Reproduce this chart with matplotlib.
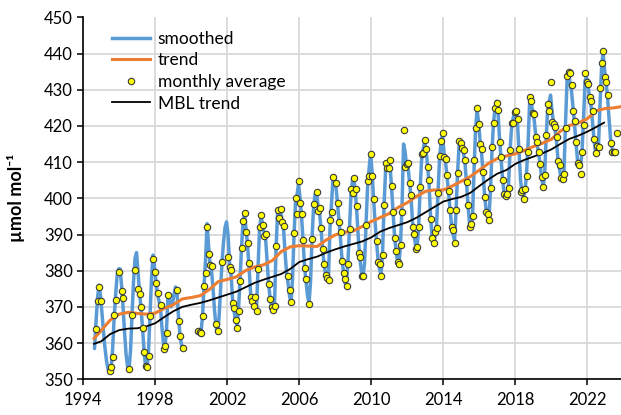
import numpy as np
import matplotlib
matplotlib.use("Agg")
import matplotlib.pyplot as plt
from matplotlib.lines import Line2D

nan = float("nan")

# ---------------- monthly averages (Jan..Dec) ----------------
avg_1994 = [nan, nan, nan, nan, nan, nan, nan, nan, 364.0, 371.7, 375.6, 371.7]
avg_1995 = [nan, nan, nan, nan, nan, 352.4, 353.5, 356.2, 367.8, 372.0, nan, 379.7]
avg_1996 = [nan, 374.4, 372.5, nan, nan, nan, 352.9, nan, 367.8, nan, 380.3, nan]
avg_1997 = [374.9, 373.6, 370.1, 364.3, 357.5, 353.8, 353.5, 356.4, 367.6, nan, 383.1, 379.7]
avg_1998 = [376.5, 373.8, nan, 370.4, nan, 358.4, 359.2, 362.9, 373.4, nan, nan, nan]
avg_1999 = [nan, nan, 374.7, 366.2, 362.0, nan, 358.7, nan, nan, nan, nan, nan]
avg_2000 = [nan, nan, nan, nan, 363.4, 363.0, 362.9, 367.6, 375.9, 379.4, 392.2, 384.7]
avg_2001 = [381.7, 381.2, nan, nan, 365.3, 363.3, nan, nan, 382.4, nan, nan, nan]
avg_2002 = [383.9, 380.9, 380.2, 371.0, 369.6, 366.4, 364.1, 368.9, 377.2, 386.2, 393.7, 395.9]
avg_2003 = [390.8, 387.7, 382.0, 372.8, 371.7, 370.3, 372.8, 369.0, 380.6, 392.2, 395.4, 392.5]
avg_2004 = [389.6, 390.1, nan, 376.3, 372.3, 369.9, 369.1, 370.3, 386.7, 396.8, 394.5, 397.0]
avg_2005 = [393.5, 392.3, nan, nan, 378.5, 374.7, 371.4, nan, 390.3, 400.0, 395.6, 404.9]
avg_2006 = [398.6, 395.6, 388.5, 380.8, 377.8, nan, 370.7, nan, 388.7, 398.4, nan, 401.7]
avg_2007 = [396.6, 397.3, 391.7, 385.9, 381.8, 378.8, 377.9, 377.4, 394.0, 396.1, 406.0, nan]
avg_2008 = [404.1, 398.6, 393.4, 390.8, 382.8, 379.3, 377.7, 375.9, 381.9, 391.5, 402.7, 401.5]
avg_2009 = [405.7, 402.5, 397.9, 385.0, 383.9, 378.6, 378.6, nan, 392.5, 404.8, 406.2, 412.2]
avg_2010 = [406.2, 399.7, nan, 388.3, 382.5, 381.9, 378.5, 384.3, 398.2, 409.8, 408.3, 408.3]
avg_2011 = [410.6, 403.5, 396.3, 389.1, 385.4, 382.5, 381.9, 387.1, 396.3, 418.9, 408.6, 409.5]
avg_2012 = [409.7, 404.3, 401.0, 392.2, 390.1, 386.1, 386.6, 392.0, 403.0, 412.1, 412.6, 416.1]
avg_2013 = [413.5, 408.6, 405.0, 394.2, 389.1, 387.6, 390.8, 391.7, 401.5, 411.7, 415.8, 418.1]
avg_2014 = [411.5, 410.9, 406.4, 402.1, 396.8, 392.2, 391.2, 387.6, 396.8, 407.1, 415.8, 415.2]
avg_2015 = [414.0, 413.3, 410.6, 404.6, 398.2, 392.0, 392.9, 395.2, 410.6, 419.3, 424.9, 420.5]
avg_2016 = [415.0, 413.6, 407.3, 400.4, 396.3, 395.6, 394.0, 402.8, 414.3, 420.9, 425.0, 426.2]
avg_2017 = [424.4, 415.6, 411.3, 405.0, 401.2, 400.6, 401.1, 402.8, 413.3, 420.7, 420.7, 423.9]
avg_2018 = [424.2, 421.8, 413.6, 401.8, 402.3, 399.7, 402.5, 406.2, 412.9, 428.1, 426.9, 423.5]
avg_2019 = [423.2, 417.0, 415.6, 412.9, 409.5, 406.0, 403.0, 406.4, 417.5, 426.0, 424.2, 432.2]
avg_2020 = [421.2, 420.4, 419.8, 416.9, 410.3, 409.2, 405.7, 405.2, 406.7, 419.3, 433.8, 435.0]
avg_2021 = [434.5, 431.3, 424.2, 421.4, 415.5, 409.7, 409.2, 406.7, 412.9, 420.3, 434.5, 432.0]
avg_2022 = [431.5, 428.1, 427.0, 424.1, 416.4, 412.4, 414.5, 414.1, 430.4, 437.5, 440.7, 433.6]
avg_2023 = [432.0, 428.5, nan, 415.2, 412.9, 412.9, 412.9, 418.1, nan, nan, nan, nan]

# ---------------- smoothed curve (Jan..Dec) ----------------
smo_1994 = [nan, nan, nan, nan, nan, nan, nan, 358.5, 366.0, 372.5, 376.0, 373.0]
smo_1995 = [368.0, 363.0, 358.5, 355.0, 352.8, 352.2, 353.0, 358.0, 366.5, 373.0, 378.5, 380.5]
smo_1996 = [380.5, 376.0, 370.0, 363.0, 357.0, 353.5, 352.8, 358.0, 368.0, 377.0, 383.5, 385.0]
smo_1997 = [379.5, 374.0, 369.5, 364.0, 358.0, 353.5, 353.0, 358.0, 368.0, 378.0, 384.3, 381.0]
smo_1998 = [376.5, 373.5, 371.5, 369.5, 364.0, 359.5, 359.0, 364.0, 373.5, 372.0, 370.0, 371.0]
smo_1999 = [373.5, 375.5, 374.0, 367.0, 362.0, 359.5, 358.5, nan, nan, nan, nan, nan]
smo_2000 = [nan, nan, nan, nan, 363.5, 363.0, 363.0, 367.5, 376.0, 383.0, 393.0, 387.0]
smo_2001 = [381.5, 380.0, 375.0, 369.0, 364.5, 362.8, 367.0, 375.0, 382.5, 388.0, 392.0, 393.5]
smo_2002 = [390.0, 382.0, 379.0, 372.0, 369.0, 366.0, 365.0, 369.5, 377.5, 386.5, 393.5, 395.5]
smo_2003 = [391.5, 387.0, 381.0, 374.0, 371.5, 371.0, 370.5, 369.5, 381.0, 391.5, 395.0, 393.0]
smo_2004 = [390.5, 389.0, 383.0, 376.5, 372.5, 370.0, 369.0, 371.0, 386.0, 396.0, 396.0, 396.5]
smo_2005 = [394.0, 391.5, 385.0, 379.5, 376.5, 373.0, 371.0, 378.0, 390.0, 399.0, 401.0, 404.0]
smo_2006 = [400.0, 395.0, 388.5, 381.0, 377.0, 373.0, 371.0, 377.0, 389.0, 397.5, 401.0, 401.5]
smo_2007 = [398.0, 396.0, 391.5, 386.0, 382.0, 379.0, 377.5, 379.0, 392.0, 399.0, 405.5, 406.0]
smo_2008 = [403.0, 398.5, 393.5, 388.5, 383.0, 379.5, 376.5, 377.0, 383.0, 392.0, 401.5, 405.0]
smo_2009 = [405.0, 401.0, 395.0, 388.0, 383.0, 379.5, 378.5, 382.0, 393.0, 403.0, 408.0, 412.5]
smo_2010 = [407.5, 400.0, 393.5, 388.0, 383.0, 380.5, 379.0, 385.0, 398.0, 407.5, 409.0, 409.5]
smo_2011 = [409.0, 403.0, 396.0, 389.5, 385.5, 382.5, 382.0, 387.5, 398.0, 415.0, 413.0, 409.0]
smo_2012 = [408.5, 404.5, 400.0, 393.5, 390.0, 387.0, 386.5, 391.5, 402.0, 410.5, 413.5, 415.5]
smo_2013 = [413.5, 409.0, 404.0, 395.0, 389.5, 387.5, 389.5, 392.5, 401.5, 411.0, 415.5, 417.5]
smo_2014 = [412.5, 410.0, 406.0, 401.5, 397.0, 392.5, 390.0, 388.5, 396.5, 407.0, 414.5, 415.0]
smo_2015 = [414.0, 412.5, 409.5, 404.0, 398.0, 393.0, 392.0, 395.0, 408.0, 419.0, 424.5, 421.0]
smo_2016 = [416.0, 412.5, 407.0, 401.0, 397.0, 395.0, 395.0, 402.5, 413.5, 421.0, 425.0, 426.8]
smo_2017 = [423.5, 416.5, 411.0, 405.5, 401.5, 400.5, 401.0, 404.0, 413.0, 419.5, 422.0, 424.0]
smo_2018 = [424.5, 420.5, 413.0, 405.0, 401.5, 400.5, 402.0, 407.0, 415.0, 426.0, 427.0, 424.0]
smo_2019 = [422.0, 418.0, 415.0, 412.5, 409.5, 406.0, 403.0, 406.0, 416.0, 424.0, 426.5, 428.5]
smo_2020 = [424.0, 421.0, 419.0, 415.5, 410.5, 408.0, 405.5, 405.0, 408.0, 421.0, 432.5, 434.5]
smo_2021 = [432.0, 429.5, 425.0, 420.5, 415.0, 410.5, 408.5, 408.5, 413.0, 422.0, 432.5, 433.5]
smo_2022 = [431.0, 428.0, 425.5, 421.0, 416.0, 413.0, 413.5, 415.0, 426.0, 436.0, 440.5, 435.5]
smo_2023 = [432.0, 428.0, 422.0, 416.5, 414.0, nan, nan, nan, nan, nan, nan, nan]

# ---------------- trend ----------------
trend_t = [1994.6, 1995.0, 1995.5, 1996.0, 1996.5, 1997.0, 1997.5, 1998.0, 1998.5, 1999.0,
           1999.5, 2000.0, 2000.5, 2001.0, 2001.5, 2002.0, 2002.5, 2003.0, 2003.5, 2004.0,
           2004.5, 2005.0, 2005.5, 2006.0, 2006.5, 2007.0, 2007.5, 2008.0, 2008.5, 2009.0,
           2009.5, 2010.0, 2010.5, 2011.0, 2011.5, 2012.0, 2012.5, 2013.0, 2013.5, 2014.0,
           2014.5, 2015.0, 2015.5, 2016.0, 2016.5, 2017.0, 2017.5, 2018.0, 2018.5, 2019.0,
           2019.5, 2020.0, 2020.5, 2021.0, 2021.5, 2022.0, 2022.5, 2023.0, 2023.5, 2023.85]
trend_v = [361.3, 363.5, 366.4, 368.0, 368.5, 368.2, 368.0, 368.3, 369.6, 370.6,
           372.2, 372.6, 373.1, 374.8, 377.0, 377.6, 378.3, 380.0, 381.0, 381.6,
           382.8, 385.3, 386.6, 386.9, 386.8, 386.7, 388.5, 389.9, 390.6, 391.0,
           392.2, 393.6, 394.7, 395.8, 397.5, 398.8, 400.5, 401.9, 402.3, 402.3,
           403.4, 404.7, 406.0, 407.8, 409.6, 411.0, 411.7, 412.3, 413.2, 414.3,
           415.2, 416.3, 418.5, 420.1, 420.8, 422.0, 424.2, 424.8, 425.0, 425.3]

# ---------------- MBL trend ----------------
mbl_t = [1994.6, 1995.0, 1995.5, 1996.0, 1996.5, 1997.0, 1997.5, 1998.0, 1998.5, 1999.0,
         1999.5, 2000.0, 2000.5, 2001.0, 2001.5, 2002.0, 2002.5, 2003.0, 2003.5, 2004.0,
         2004.5, 2005.0, 2005.5, 2006.0, 2006.5, 2007.0, 2007.5, 2008.0, 2008.5, 2009.0,
         2009.5, 2010.0, 2010.5, 2011.0, 2011.5, 2012.0, 2012.5, 2013.0, 2013.5, 2014.0,
         2014.5, 2015.0, 2015.5, 2016.0, 2016.5, 2017.0, 2017.5, 2018.0, 2018.5, 2019.0,
         2019.5, 2020.0, 2020.5, 2021.0, 2021.5, 2022.0, 2022.5, 2022.93]
mbl_v = [359.8, 360.5, 362.5, 363.6, 364.0, 364.1, 364.6, 365.5, 367.2, 368.8,
         370.0, 370.6, 371.1, 371.8, 372.6, 373.4, 374.2, 375.4, 376.6, 377.5,
         378.3, 379.1, 380.5, 382.4, 383.2, 383.9, 385.0, 385.9, 386.7, 387.4,
         388.1, 389.2, 390.8, 391.8, 392.6, 393.4, 394.6, 396.1, 397.6, 399.1,
         399.8, 400.4, 401.5, 403.4, 405.2, 406.8, 407.8, 409.5, 410.6, 411.5,
         412.4, 413.5, 415.0, 416.4, 417.3, 418.4, 419.7, 420.9]

x_ticks = [1994, 1998, 2002, 2006, 2010, 2014, 2018, 2022]
y_ticks = [350, 360, 370, 380, 390, 400, 410, 420, 430, 440, 450]

years = list(range(1994, 2024))
avg_rows = [avg_1994, avg_1995, avg_1996, avg_1997, avg_1998, avg_1999, avg_2000, avg_2001,
            avg_2002, avg_2003, avg_2004, avg_2005, avg_2006, avg_2007, avg_2008, avg_2009,
            avg_2010, avg_2011, avg_2012, avg_2013, avg_2014, avg_2015, avg_2016, avg_2017,
            avg_2018, avg_2019, avg_2020, avg_2021, avg_2022, avg_2023]
smo_rows = [smo_1994, smo_1995, smo_1996, smo_1997, smo_1998, smo_1999, smo_2000, smo_2001,
            smo_2002, smo_2003, smo_2004, smo_2005, smo_2006, smo_2007, smo_2008, smo_2009,
            smo_2010, smo_2011, smo_2012, smo_2013, smo_2014, smo_2015, smo_2016, smo_2017,
            smo_2018, smo_2019, smo_2020, smo_2021, smo_2022, smo_2023]

t = np.array([y + (m + 0.5) / 12.0 for y in years for m in range(12)])
avg = np.array([v for row in avg_rows for v in row], dtype=float)
smo = np.array([v for row in smo_rows for v in row], dtype=float)

plt.rcParams["font.family"] = ["Lato", "DejaVu Sans"]

W, H = 621, 415
fig = plt.figure(figsize=(W / 100, H / 100), dpi=100)
left, right, top, bottom = 83.3, 621, 17.3, 379.3
ax = fig.add_axes([left / W, 1 - bottom / H, (right - left) / W, (bottom - top) / H])

ax.plot(t, smo, color="#5B9BD5", lw=2.5, solid_joinstyle="round", solid_capstyle="round", zorder=2)
ax.plot(trend_t, trend_v, color="#ED7D31", lw=2.2, zorder=3)
ax.plot(mbl_t, mbl_v, color="black", lw=1.3, zorder=4)
ax.plot(t, avg, "o", ls="none", ms=4.6, mfc="#FFFF00", mec="#3A3A3A", mew=0.8, zorder=5)

ax.set_xlim(1994, 1994 + (right - left) / 18.0)
ax.set_ylim(350, 450)
ax.set_xticks(x_ticks)
ax.set_yticks(y_ticks)
ax.grid(True, color="#D9D9D9", lw=1.3)
ax.yaxis.get_gridlines()[-1].set_visible(False)
ax.set_axisbelow(True)
for s in ["top", "right"]:
    ax.spines[s].set_visible(False)
for s in ["left", "bottom"]:
    ax.spines[s].set_linewidth(1.2)
ax.tick_params(direction="out", length=4, width=1.1, labelsize=12, colors="black")
ax.tick_params(axis="x", pad=5)
ax.set_ylabel("µmol mol⁻¹", fontsize=13, fontweight="bold", labelpad=14)

handles = [
    Line2D([], [], color="#5B9BD5", lw=2.5),
    Line2D([], [], color="#ED7D31", lw=2.2),
    Line2D([], [], marker="o", ls="none", ms=4.6, mfc="#FFFF00", mec="#3A3A3A", mew=0.8),
    Line2D([], [], color="black", lw=1.3),
]
labels = ["smoothed", "trend", "monthly average", "MBL trend"]
leg = ax.legend(handles, labels, loc="upper left", bbox_to_anchor=(0.046, 0.972),
                frameon=False, fontsize=12.5, handlelength=2.2, handletextpad=0.46,
                labelspacing=0.32, borderaxespad=0, borderpad=0.2)

fig.savefig("out.png", dpi=100)
